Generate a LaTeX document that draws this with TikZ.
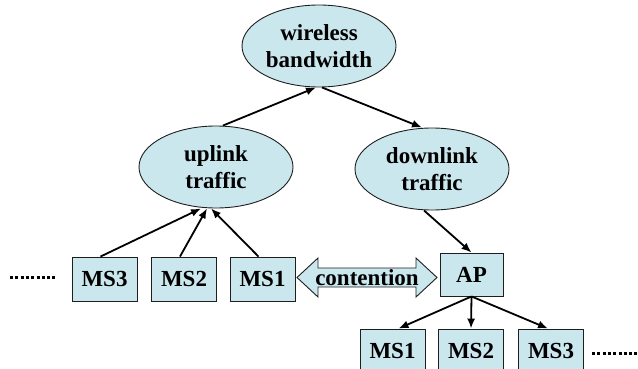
\documentclass[tikz,border=0pt]{standalone}
\usepackage{fontspec}
\setmainfont{Liberation Serif}
\usetikzlibrary{arrows.meta,shapes.geometric,calc}
\definecolor{paleblue}{RGB}{203,231,238}
\definecolor{edge}{RGB}{30,30,30}
\tikzset{
  lbl/.style={font=\bfseries\fontsize{23}{27}\selectfont},
  bubble/.style={ellipse,draw=edge,line width=0.9pt,fill=paleblue,
    minimum width=154pt,minimum height=82pt,inner sep=0pt,align=center,lbl},
  msbox/.style={rectangle,draw=edge,line width=0.9pt,fill=paleblue,
    minimum width=65pt,minimum height=44pt,inner sep=0pt,lbl},
  flow/.style={line width=1.8pt,-{Latex[length=10pt,width=8pt]}},
  more/.style={line width=3pt,dash pattern=on 3pt off 2.3pt}
}
\begin{document}
\begin{tikzpicture}[x=1pt,y=-1pt]
\useasboundingbox (0,0) rectangle (638,369);

% bandwidth hierarchy
\node[bubble] (wb) at (319,46) {wireless\\bandwidth};
\node[bubble] (up) at (216,167) {uplink\\traffic};
\node[bubble] (dl) at (432,169) {downlink\\traffic};

% stations sending uplink traffic
\node[msbox] (ms3a) at (104.5,279) {MS3};
\node[msbox] (ms2a) at (184,279) {MS2};
\node[msbox] (ms1a) at (262.5,279) {MS1};

% access point and its stations
\node[msbox,minimum width=63pt,minimum height=43pt] (ap) at (471.5,274.5) {AP};
\node[msbox] (ms1b) at (392.5,351) {MS1};
\node[msbox] (ms2b) at (471,351) {MS2};
\node[msbox] (ms3b) at (551,351) {MS3};

% contention double arrow between MS1 and the AP
\coordinate (cl) at (297,277.5);
\coordinate (cr) at (437,277.5);
\draw[edge,fill=paleblue,line width=0.9pt,line join=miter]
  (cl) -- ++(21,-19.5) -- ++(0,10) -- ($(cr)+(-21,-9.5)$) -- ++(0,-10)
  -- (cr) -- ++(-21,19.5) -- ++(0,-10) -- ($(cl)+(21,9.5)$) -- ++(0,10) -- cycle;
\node[lbl,inner sep=0pt] (cont) at (367,278) {contention};

% connectors
\draw[flow] ([xshift=7pt]up.north) -- ([xshift=-3pt]wb.south);
\draw[flow] ([xshift=3pt]wb.south) -- ([xshift=-10pt]dl.north);
\draw[flow] ([xshift=-4pt]ms3a.north) -- ([xshift=-15pt]up.south);
\draw[flow] ([xshift=-4pt]ms2a.north) -- ([xshift=-9pt]up.south);
\draw[flow] ([xshift=-4pt]ms1a.north) -- ([xshift=-5pt]up.south);
\draw[flow] ([xshift=-8pt]dl.south) -- (ap.north);
\draw[flow] (ap.south) -- ([xshift=6pt]ms1b.north);
\draw[flow] (ap.south) -- (ms2b.north);
\draw[flow] (ap.south) -- ([xshift=-3pt]ms3b.north);

% further stations
\coordinate (dotsl0) at (10,277);
\coordinate (dotsl1) at (56,277);
\draw[more] (dotsl0) -- (dotsl1);
\coordinate (dotsr0) at (592,353);
\coordinate (dotsr1) at (638,353);
\draw[more] (dotsr0) -- (dotsr1);
\end{tikzpicture}
\end{document}
